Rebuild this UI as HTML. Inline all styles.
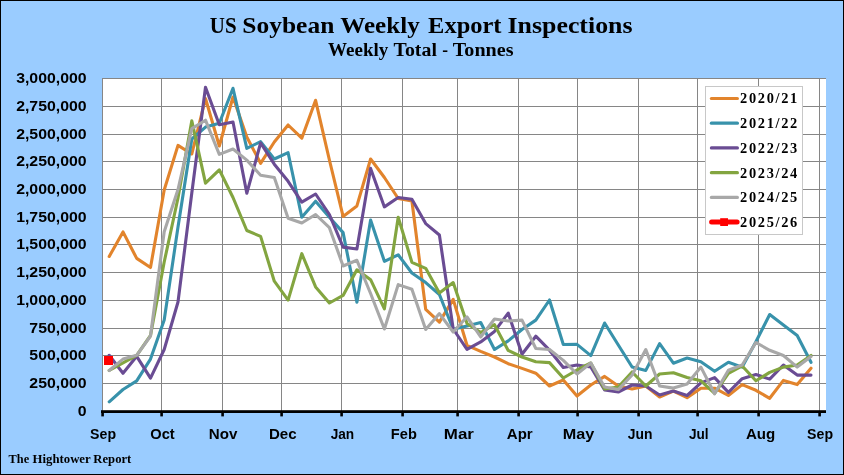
<!DOCTYPE html>
<html><head><meta charset="utf-8"><title>US Soybean Weekly Export Inspections</title>
<style>html,body{margin:0;padding:0;background:#9ACCFF;}body{width:844px;height:475px;overflow:hidden;font-family:"Liberation Sans",sans-serif;}svg{display:block;will-change:transform}text{font-kerning:normal}</style></head><body>
<svg width="844" height="475" viewBox="0 0 844 475">
<rect x="0" y="0" width="844" height="475" fill="#9ACCFF"/>
<rect x="0.5" y="0.5" width="843" height="474" fill="none" stroke="#000" stroke-width="1"/>
<rect x="102" y="78" width="724" height="333" fill="#fff"/>
<path d="M102 78.5H826 M102 106.5H826 M102 134.5H826 M102 161.5H826 M102 189.5H826 M102 217.5H826 M102 244.5H826 M102 272.5H826 M102 300.5H826 M102 328.5H826 M102 355.5H826 M102 383.5H826 M102.5 78V411 M161.5 78V411 M222.5 78V411 M281.5 78V411 M341.5 78V411 M402.5 78V411 M457.5 78V411 M518.5 78V411 M577.5 78V411 M638.5 78V411 M697.5 78V411 M758.5 78V411 M819.5 78V411" stroke="#868686" stroke-width="1" fill="none" shape-rendering="crispEdges"/>
<polyline points="109.2,256.5 123.0,231.9 136.7,258.4 150.5,267.5 164.2,190.0 178.0,145.4 191.8,154.0 205.5,98.5 219.3,146.0 233.0,97.0 246.8,137.0 260.6,163.3 274.3,142.0 288.1,125.0 301.8,138.2 315.6,100.3 329.4,160.0 343.1,216.4 356.9,205.9 370.6,159.0 384.4,177.5 398.2,198.5 411.9,201.0 425.7,309.3 439.4,322.1 453.2,299.4 467.0,345.3 480.7,351.4 494.5,357.0 508.2,363.7 522.0,368.4 535.8,373.2 549.5,386.0 563.3,380.0 577.0,396.0 590.8,385.0 604.6,376.4 618.3,386.0 632.1,389.0 645.8,386.0 659.6,397.0 673.4,391.0 687.1,397.6 700.9,388.2 714.6,388.2 728.4,395.5 742.2,384.6 755.9,390.3 769.7,398.3 783.4,380.4 797.2,384.6 811.0,368.2" fill="none" stroke="#E2842C" stroke-width="3.1" stroke-linejoin="round" stroke-linecap="round"/>
<polyline points="109.2,401.8 123.0,389.5 136.7,380.9 150.5,359.1 164.2,320.0 178.0,227.0 191.8,139.0 205.5,127.1 219.3,123.3 233.0,88.3 246.8,148.3 260.6,141.7 274.3,159.0 288.1,152.7 301.8,217.3 315.6,201.2 329.4,217.3 343.1,232.6 356.9,302.2 370.6,220.0 384.4,261.3 398.2,254.8 411.9,273.0 425.7,282.6 439.4,294.5 453.2,329.3 467.0,326.0 480.7,322.5 494.5,349.5 508.2,340.9 522.0,329.5 535.8,320.1 549.5,300.0 563.3,344.5 577.0,344.4 590.8,355.6 604.6,323.0 618.3,345.0 632.1,367.0 645.8,370.4 659.6,343.6 673.4,363.2 687.1,358.0 700.9,361.8 714.6,371.3 728.4,362.3 742.2,367.1 755.9,341.8 769.7,314.5 783.4,325.0 797.2,335.5 811.0,362.3" fill="none" stroke="#3892AB" stroke-width="3.1" stroke-linejoin="round" stroke-linecap="round"/>
<polyline points="109.2,355.3 123.0,373.3 136.7,356.3 150.5,378.1 164.2,349.5 178.0,302.0 191.8,193.0 205.5,87.3 219.3,124.8 233.0,122.0 246.8,193.3 260.6,143.0 274.3,164.2 288.1,181.3 301.8,202.1 315.6,194.0 329.4,214.5 343.1,247.1 356.9,249.0 370.6,168.4 384.4,206.9 398.2,197.5 411.9,199.3 425.7,223.6 439.4,235.0 453.2,329.0 467.0,349.3 480.7,341.9 494.5,331.4 508.2,313.1 522.0,354.2 535.8,336.2 549.5,350.2 563.3,367.5 577.0,365.0 590.8,367.0 604.6,390.0 618.3,392.0 632.1,385.0 645.8,386.0 659.6,395.0 673.4,391.0 687.1,395.5 700.9,382.9 714.6,377.6 728.4,392.4 742.2,378.7 755.9,374.5 769.7,379.1 783.4,365.0 797.2,375.1 811.0,375.1" fill="none" stroke="#6A4C93" stroke-width="3.1" stroke-linejoin="round" stroke-linecap="round"/>
<polyline points="109.2,370.5 123.0,362.9 136.7,355.3 150.5,335.5 164.2,262.0 178.0,198.0 191.8,120.8 205.5,183.2 219.3,169.8 233.0,197.5 246.8,230.5 260.6,236.4 274.3,281.2 288.1,300.1 301.8,253.7 315.6,286.9 329.4,303.0 343.1,295.4 356.9,269.8 370.6,279.7 384.4,308.8 398.2,217.2 411.9,262.3 425.7,268.3 439.4,292.9 453.2,282.6 467.0,323.5 480.7,332.5 494.5,324.7 508.2,350.4 522.0,357.0 535.8,361.8 549.5,362.6 563.3,378.0 577.0,370.0 590.8,363.0 604.6,389.0 618.3,387.0 632.1,372.0 645.8,386.0 659.6,374.0 673.4,372.7 687.1,377.5 700.9,380.8 714.6,393.4 728.4,373.4 742.2,366.0 755.9,380.8 769.7,372.4 783.4,367.1 797.2,365.0 811.0,355.5" fill="none" stroke="#83A540" stroke-width="3.1" stroke-linejoin="round" stroke-linecap="round"/>
<polyline points="109.2,370.5 123.0,359.1 136.7,355.3 150.5,336.0 164.2,231.7 178.0,189.5 191.8,128.6 205.5,120.2 219.3,154.4 233.0,149.0 246.8,160.1 260.6,175.3 274.3,177.5 288.1,218.2 301.8,223.0 315.6,214.5 329.4,227.7 343.1,266.0 356.9,260.3 370.6,293.5 384.4,329.0 398.2,284.6 411.9,289.3 425.7,329.5 439.4,313.6 453.2,332.0 467.0,316.8 480.7,337.0 494.5,319.0 508.2,321.0 522.0,320.1 535.8,348.5 549.5,349.5 563.3,360.4 577.0,374.0 590.8,363.0 604.6,387.0 618.3,389.6 632.1,375.0 645.8,349.6 659.6,386.0 673.4,388.1 687.1,384.0 700.9,367.1 714.6,393.8 728.4,370.3 742.2,365.0 755.9,342.5 769.7,350.3 783.4,355.5 797.2,367.1 811.0,356.6" fill="none" stroke="#A8A8A8" stroke-width="3.1" stroke-linejoin="round" stroke-linecap="round"/>
<rect x="104" y="356" width="9" height="9" fill="#FF0000"/>
<rect x="101" y="410.2" width="725" height="2.8" fill="#000"/>
<rect x="101.3" y="411" width="2.6" height="5.4" fill="#000"/><rect x="160.3" y="411" width="2.6" height="5.4" fill="#000"/><rect x="221.3" y="411" width="2.6" height="5.4" fill="#000"/><rect x="280.3" y="411" width="2.6" height="5.4" fill="#000"/><rect x="340.3" y="411" width="2.6" height="5.4" fill="#000"/><rect x="401.3" y="411" width="2.6" height="5.4" fill="#000"/><rect x="456.3" y="411" width="2.6" height="5.4" fill="#000"/><rect x="517.3" y="411" width="2.6" height="5.4" fill="#000"/><rect x="576.3" y="411" width="2.6" height="5.4" fill="#000"/><rect x="637.3" y="411" width="2.6" height="5.4" fill="#000"/><rect x="696.3" y="411" width="2.6" height="5.4" fill="#000"/><rect x="757.3" y="411" width="2.6" height="5.4" fill="#000"/><rect x="818.3" y="411" width="2.6" height="5.4" fill="#000"/>
<text x="209.78" y="32.8" font-family="Liberation Serif" font-weight="bold" font-size="24.0" textLength="26.83" lengthAdjust="spacingAndGlyphs" fill="#000">US</text>
<text x="242.33" y="32.8" font-family="Liberation Serif" font-weight="bold" font-size="24.0" textLength="91.99" lengthAdjust="spacingAndGlyphs" fill="#000">Soybean</text>
<text x="340.35" y="32.8" font-family="Liberation Serif" font-weight="bold" font-size="24.0" textLength="79.31" lengthAdjust="spacingAndGlyphs" fill="#000">Weekly</text>
<text x="428.11" y="32.8" font-family="Liberation Serif" font-weight="bold" font-size="24.0" textLength="73.39" lengthAdjust="spacingAndGlyphs" fill="#000">Export</text>
<text x="507.52" y="32.8" font-family="Liberation Serif" font-weight="bold" font-size="24.0" textLength="125.01" lengthAdjust="spacingAndGlyphs" fill="#000">Inspections</text>
<text x="328.11" y="55.8" font-family="Liberation Serif" font-weight="bold" font-size="19.2" textLength="60.21" lengthAdjust="spacingAndGlyphs" fill="#000">Weekly</text>
<text x="393.50" y="55.8" font-family="Liberation Serif" font-weight="bold" font-size="19.2" textLength="43.42" lengthAdjust="spacingAndGlyphs" fill="#000">Total</text>
<text x="442.21" y="55.8" font-family="Liberation Serif" font-weight="bold" font-size="19.2" textLength="5.77" lengthAdjust="spacingAndGlyphs" fill="#000">-</text>
<text x="452.80" y="55.8" font-family="Liberation Serif" font-weight="bold" font-size="19.2" textLength="60.72" lengthAdjust="spacingAndGlyphs" fill="#000">Tonnes</text>
<text x="8.55" y="462.7" font-family="Liberation Serif" font-weight="bold" font-size="12.2" textLength="20.58" lengthAdjust="spacingAndGlyphs" fill="#000">The</text>
<text x="32.54" y="462.7" font-family="Liberation Serif" font-weight="bold" font-size="12.2" textLength="58.17" lengthAdjust="spacingAndGlyphs" fill="#000">Hightower</text>
<text x="93.35" y="462.7" font-family="Liberation Serif" font-weight="bold" font-size="12.2" textLength="37.97" lengthAdjust="spacingAndGlyphs" fill="#000">Report</text>
<text x="90.08" y="438.7" font-family="Liberation Sans" font-weight="bold" font-size="14.3" textLength="25.95" lengthAdjust="spacingAndGlyphs" fill="#000">Sep</text>
<text x="150.31" y="438.7" font-family="Liberation Sans" font-weight="bold" font-size="14.3" textLength="24.39" lengthAdjust="spacingAndGlyphs" fill="#000">Oct</text>
<text x="208.84" y="438.7" font-family="Liberation Sans" font-weight="bold" font-size="14.3" textLength="28.60" lengthAdjust="spacingAndGlyphs" fill="#000">Nov</text>
<text x="268.94" y="438.7" font-family="Liberation Sans" font-weight="bold" font-size="14.3" textLength="27.68" lengthAdjust="spacingAndGlyphs" fill="#000">Dec</text>
<text x="330.63" y="438.7" font-family="Liberation Sans" font-weight="bold" font-size="14.3" textLength="23.54" lengthAdjust="spacingAndGlyphs" fill="#000">Jan</text>
<text x="390.88" y="438.7" font-family="Liberation Sans" font-weight="bold" font-size="14.3" textLength="25.98" lengthAdjust="spacingAndGlyphs" fill="#000">Feb</text>
<text x="443.82" y="438.7" font-family="Liberation Sans" font-weight="bold" font-size="14.3" textLength="30.10" lengthAdjust="spacingAndGlyphs" fill="#000">Mar</text>
<text x="506.75" y="438.7" font-family="Liberation Sans" font-weight="bold" font-size="14.3" textLength="25.94" lengthAdjust="spacingAndGlyphs" fill="#000">Apr</text>
<text x="562.77" y="438.7" font-family="Liberation Sans" font-weight="bold" font-size="14.3" textLength="31.52" lengthAdjust="spacingAndGlyphs" fill="#000">May</text>
<text x="627.72" y="438.7" font-family="Liberation Sans" font-weight="bold" font-size="14.3" textLength="24.68" lengthAdjust="spacingAndGlyphs" fill="#000">Jun</text>
<text x="688.93" y="438.7" font-family="Liberation Sans" font-weight="bold" font-size="14.3" textLength="19.69" lengthAdjust="spacingAndGlyphs" fill="#000">Jul</text>
<text x="745.95" y="438.7" font-family="Liberation Sans" font-weight="bold" font-size="14.3" textLength="29.32" lengthAdjust="spacingAndGlyphs" fill="#000">Aug</text>
<text x="807.08" y="438.7" font-family="Liberation Sans" font-weight="bold" font-size="14.3" textLength="25.95" lengthAdjust="spacingAndGlyphs" fill="#000">Sep</text>
<text x="16.18" y="83.4" font-family="Liberation Sans" font-weight="bold" font-size="14.2" textLength="70.43" lengthAdjust="spacingAndGlyphs" fill="#000">3,000,000</text>
<text x="16.18" y="111.4" font-family="Liberation Sans" font-weight="bold" font-size="14.2" textLength="70.43" lengthAdjust="spacingAndGlyphs" fill="#000">2,750,000</text>
<text x="16.18" y="139.4" font-family="Liberation Sans" font-weight="bold" font-size="14.2" textLength="70.43" lengthAdjust="spacingAndGlyphs" fill="#000">2,500,000</text>
<text x="16.18" y="166.4" font-family="Liberation Sans" font-weight="bold" font-size="14.2" textLength="70.43" lengthAdjust="spacingAndGlyphs" fill="#000">2,250,000</text>
<text x="16.18" y="194.4" font-family="Liberation Sans" font-weight="bold" font-size="14.2" textLength="70.43" lengthAdjust="spacingAndGlyphs" fill="#000">2,000,000</text>
<text x="16.18" y="222.4" font-family="Liberation Sans" font-weight="bold" font-size="14.2" textLength="70.43" lengthAdjust="spacingAndGlyphs" fill="#000">1,750,000</text>
<text x="16.18" y="249.4" font-family="Liberation Sans" font-weight="bold" font-size="14.2" textLength="70.43" lengthAdjust="spacingAndGlyphs" fill="#000">1,500,000</text>
<text x="16.18" y="277.4" font-family="Liberation Sans" font-weight="bold" font-size="14.2" textLength="70.43" lengthAdjust="spacingAndGlyphs" fill="#000">1,250,000</text>
<text x="16.18" y="305.4" font-family="Liberation Sans" font-weight="bold" font-size="14.2" textLength="70.43" lengthAdjust="spacingAndGlyphs" fill="#000">1,000,000</text>
<text x="29.39" y="333.4" font-family="Liberation Sans" font-weight="bold" font-size="14.2" textLength="57.23" lengthAdjust="spacingAndGlyphs" fill="#000">750,000</text>
<text x="29.39" y="360.4" font-family="Liberation Sans" font-weight="bold" font-size="14.2" textLength="57.23" lengthAdjust="spacingAndGlyphs" fill="#000">500,000</text>
<text x="29.39" y="388.4" font-family="Liberation Sans" font-weight="bold" font-size="14.2" textLength="57.23" lengthAdjust="spacingAndGlyphs" fill="#000">250,000</text>
<text x="77.81" y="416.4" font-family="Liberation Sans" font-weight="bold" font-size="14.2" textLength="8.81" lengthAdjust="spacingAndGlyphs" fill="#000">0</text>
<rect x="705.5" y="86.5" width="97" height="148" fill="#fff" stroke="#c8c8c8" stroke-width="1"/>
<line x1="711.4" y1="98.5" x2="737.4" y2="98.5" stroke="#E2842C" stroke-width="3.2" stroke-linecap="round"/>
<text x="740.10" y="103.3" font-family="Liberation Serif" font-weight="bold" font-size="14.4" textLength="57.19" lengthAdjust="spacing" fill="#000">2020/21</text>
<line x1="711.4" y1="123.2" x2="737.4" y2="123.2" stroke="#3892AB" stroke-width="3.2" stroke-linecap="round"/>
<text x="740.10" y="128.0" font-family="Liberation Serif" font-weight="bold" font-size="14.4" textLength="57.19" lengthAdjust="spacing" fill="#000">2021/22</text>
<line x1="711.4" y1="147.9" x2="737.4" y2="147.9" stroke="#6A4C93" stroke-width="3.2" stroke-linecap="round"/>
<text x="740.10" y="152.7" font-family="Liberation Serif" font-weight="bold" font-size="14.4" textLength="57.19" lengthAdjust="spacing" fill="#000">2022/23</text>
<line x1="711.4" y1="172.7" x2="737.4" y2="172.7" stroke="#83A540" stroke-width="3.2" stroke-linecap="round"/>
<text x="740.10" y="177.5" font-family="Liberation Serif" font-weight="bold" font-size="14.4" textLength="57.19" lengthAdjust="spacing" fill="#000">2023/24</text>
<line x1="711.4" y1="197.4" x2="737.4" y2="197.4" stroke="#A8A8A8" stroke-width="3.2" stroke-linecap="round"/>
<text x="740.10" y="202.2" font-family="Liberation Serif" font-weight="bold" font-size="14.4" textLength="57.19" lengthAdjust="spacing" fill="#000">2024/25</text>
<line x1="711.6" y1="222.1" x2="737.1" y2="222.1" stroke="#FF0000" stroke-width="5" stroke-linecap="round"/>
<rect x="720.2" y="218.2" width="7.8" height="7.8" fill="#FF0000"/>
<text x="740.10" y="226.9" font-family="Liberation Serif" font-weight="bold" font-size="14.4" textLength="57.19" lengthAdjust="spacing" fill="#000">2025/26</text>
</svg></body></html>
